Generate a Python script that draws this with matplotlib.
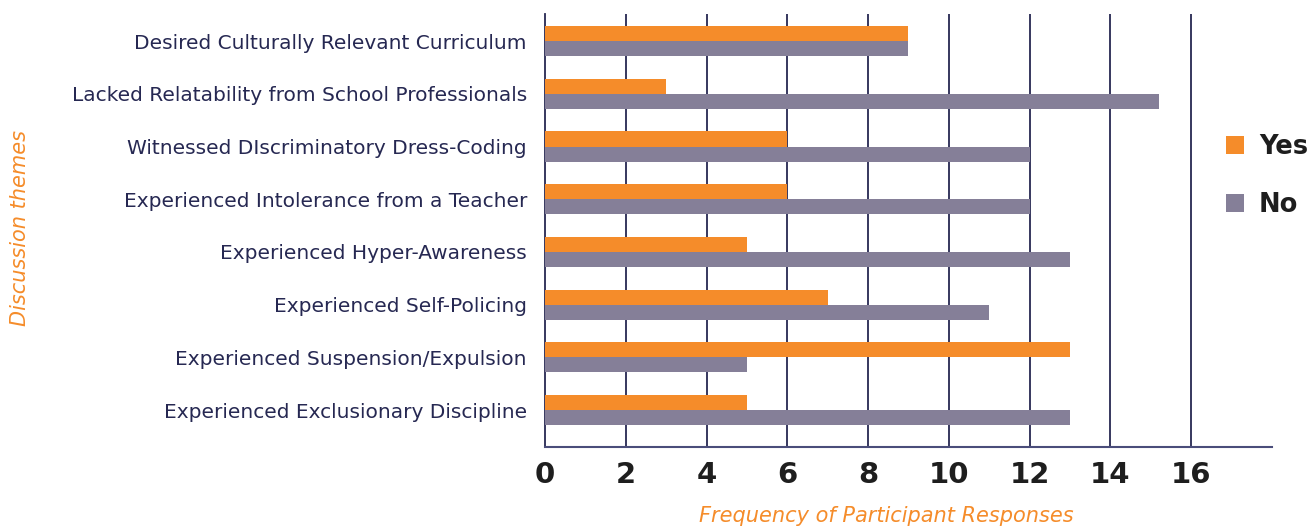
import numpy as np
import matplotlib.pyplot as plt

themes = ["Desired Culturally Relevant Curriculum",
          "Lacked Relatability from School Professionals",
          "Witnessed DIscriminatory Dress-Coding",
          "Experienced Intolerance from a Teacher",
          "Experienced Hyper-Awareness",
          "Experienced Self-Policing",
          "Experienced Suspension/Expulsion",
          "Experienced Exclusionary Discipline"]
yes_vals = [9, 3, 6, 6, 5, 7, 13, 5]
no_vals = [9, 15.2, 12, 12, 13, 11, 5, 13]
xticks = [0, 2, 4, 6, 8, 10, 12, 14, 16]

orange = "#F58C2A"
grey = "#857F98"
navy = "#262852"

fig = plt.figure(figsize=(13.1, 5.27), dpi=100)
ax = fig.add_axes([0.416, 0.152, 0.555, 0.821])

y = np.arange(len(themes))
h = 0.285
ax.barh(y - h/2, yes_vals, height=h, color=orange, label="Yes", zorder=3)
ax.barh(y + h/2, no_vals, height=h, color=grey, label="No", zorder=3)

ax.set_xlim(0, 18)
ax.set_ylim(7.70, -0.51)
ax.set_xticks(xticks)
ax.set_xticklabels([str(t) for t in xticks], fontsize=21, fontweight="heavy", color="#1e1e1e")
ax.set_yticks(y)
ax.set_yticklabels(themes, fontsize=14.5, color=navy)
ax.tick_params(axis="both", length=0)
ax.tick_params(axis="y", pad=13)
ax.tick_params(axis="x", pad=10)

for t in xticks[1:]:
    ax.axvline(t, color=navy, lw=1.3, zorder=1)

for s in ["top", "right"]:
    ax.spines[s].set_visible(False)
ax.spines["left"].set_color(navy)
ax.spines["left"].set_linewidth(1.3)
ax.spines["bottom"].set_color("#4a4d7a")
ax.spines["bottom"].set_linewidth(1.5)

# axis titles
fig.text(20/1310, 1 - 228/527, "Discussion themes", rotation=90, fontsize=15,
         style="italic", color=orange, ha="center", va="center")
fig.text(886/1310, 0.002, "Frequency of Participant Responses", fontsize=15,
         style="italic", color=orange, ha="center", va="bottom")

leg = fig.legend(loc="upper left", bbox_to_anchor=(0.918, 0.79), frameon=False,
                 prop={"size": 18.5, "weight": "bold"}, handlelength=0.7, handleheight=0.7,
                 labelspacing=1.25, handletextpad=0.6)
for txt in leg.get_texts():
    txt.set_color("#1e1e1e")

fig.savefig("out.png", dpi=100)
